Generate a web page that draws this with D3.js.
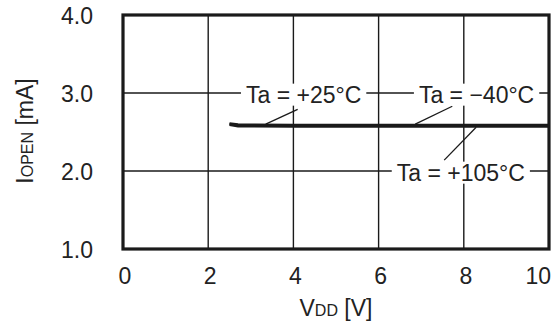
<!DOCTYPE html>
<html>
<head>
<meta charset="utf-8">
<script src="https://cdn.jsdelivr.net/npm/d3@7"></script>
<style>
  body { margin: 0; background: #fff; }
  svg { display: block; font-family: "Liberation Sans", Arial, sans-serif; }
</style>
</head>
<body>
<svg id="chart" width="553" height="323"></svg>
<script>
// Supply voltage sweep points (V)
const vdd = [2.5, 2.7, 4, 6, 8, 10];

// IOPEN (mA) for each ambient temperature
const iopenPlus25 = [2.60, 2.585, 2.58, 2.58, 2.58, 2.58];
const iopenMinus40 = [2.59, 2.572, 2.568, 2.568, 2.568, 2.568];
const iopenPlus105 = [2.61, 2.597, 2.592, 2.592, 2.592, 2.592];

const xTicks = [0, 2, 4, 6, 8, 10];
const yTicks = [1.0, 2.0, 3.0, 4.0];

// Label text, label anchor (data units) and leader line end points
const annotations = [
  { text: 'Ta = +25°C', x: 4.24, y: 3.0, x1: 4.1, y1: 2.79, x2: 3.35, y2: 2.6 },
  { text: 'Ta = \u221240°C', x: 8.3, y: 3.0, x1: 7.73, y1: 2.83, x2: 6.86, y2: 2.6 },
  { text: 'Ta = +105°C', x: 7.93, y: 2.0, x1: 7.54, y1: 2.14, x2: 8.29, y2: 2.56 },
];

const margin = { top: 15, right: 4, bottom: 74, left: 123 };
const width = 553 - margin.left - margin.right;
const height = 323 - margin.top - margin.bottom;

const svg = d3.select('#chart');
const g = svg.append('g')
  .attr('transform', `translate(${margin.left},${margin.top})`);

const x = d3.scaleLinear().domain([0, 10]).range([0, width]);
const y = d3.scaleLinear().domain([1, 4]).range([height, 0]);

// Gridlines
g.append('g')
  .selectAll('line')
  .data(xTicks.filter(d => d > 0 && d < 10))
  .enter().append('line')
  .attr('x1', d => x(d)).attr('x2', d => x(d))
  .attr('y1', 0).attr('y2', height)
  .attr('stroke', '#1a1a1a')
  .attr('stroke-width', 1.4);

g.append('g')
  .selectAll('line')
  .data(yTicks.filter(d => d > 1 && d < 4))
  .enter().append('line')
  .attr('x1', 0).attr('x2', width)
  .attr('y1', d => y(d)).attr('y2', d => y(d))
  .attr('stroke', '#1a1a1a')
  .attr('stroke-width', 1.4);

// Data lines
const line = d3.line()
  .x((d, i) => x(vdd[i]))
  .y(d => y(d));

[iopenMinus40, iopenPlus25, iopenPlus105].forEach((series) => {
  g.append('path')
    .datum(series)
    .attr('fill', 'none')
    .attr('stroke', '#1a1a1a')
    .attr('stroke-width', 2.2)
    .attr('d', line);
});

// Annotations: white box over the grid, then text and leader line
const ann = g.append('g')
  .selectAll('g')
  .data(annotations)
  .enter().append('g');

ann.append('line')
  .attr('x1', d => x(d.x1)).attr('y1', d => y(d.y1))
  .attr('x2', d => x(d.x2)).attr('y2', d => y(d.y2))
  .attr('stroke', '#1a1a1a')
  .attr('stroke-width', 1.3);

const annText = ann.append('text')
  .attr('x', d => x(d.x))
  .attr('y', d => y(d.y))
  .attr('dy', '0.42em')
  .attr('text-anchor', 'middle')
  .attr('font-size', 23)
  .attr('fill', '#222')
  .text(d => d.text);

annText.each(function () {
  const bb = this.getBBox();
  d3.select(this.parentNode).insert('rect', 'text')
    .attr('x', bb.x - 5)
    .attr('y', bb.y + 2)
    .attr('width', bb.width + 10)
    .attr('height', bb.height - 4)
    .attr('fill', '#fff');
});

// Frame
g.append('rect')
  .attr('width', width)
  .attr('height', height)
  .attr('fill', 'none')
  .attr('stroke', '#1a1a1a')
  .attr('stroke-width', 3.2);

// Tick labels
g.append('g')
  .selectAll('text')
  .data(xTicks)
  .enter().append('text')
  .attr('x', d => (d === 10 ? width + 2 : x(d) + 2))
  .attr('y', height + 27)
  .attr('dy', '0.36em')
  .attr('text-anchor', d => (d === 10 ? 'end' : 'middle'))
  .attr('font-size', 23)
  .attr('fill', '#222')
  .text(d => d);

g.append('g')
  .selectAll('text')
  .data(yTicks)
  .enter().append('text')
  .attr('x', -30)
  .attr('y', d => y(d))
  .attr('dy', '0.4em')
  .attr('text-anchor', 'end')
  .attr('font-size', 23)
  .attr('fill', '#222')
  .text(d => d.toFixed(1));

// Axis titles
const xTitle = svg.append('text')
  .attr('x', 336)
  .attr('y', 316)
  .attr('text-anchor', 'middle')
  .attr('font-size', 23)
  .attr('fill', '#222');
xTitle.append('tspan').text('V');
xTitle.append('tspan').attr('font-size', 16).text('DD');
xTitle.append('tspan').text(' [V]');

const yTitle = svg.append('text')
  .attr('transform', 'translate(25,131) rotate(-90)')
  .attr('dy', '0.36em')
  .attr('text-anchor', 'middle')
  .attr('font-size', 23)
  .attr('fill', '#222');
yTitle.append('tspan').text('I');
yTitle.append('tspan').attr('font-size', 16).text('OPEN');
yTitle.append('tspan').text(' [mA]');
</script>
</body>
</html>
